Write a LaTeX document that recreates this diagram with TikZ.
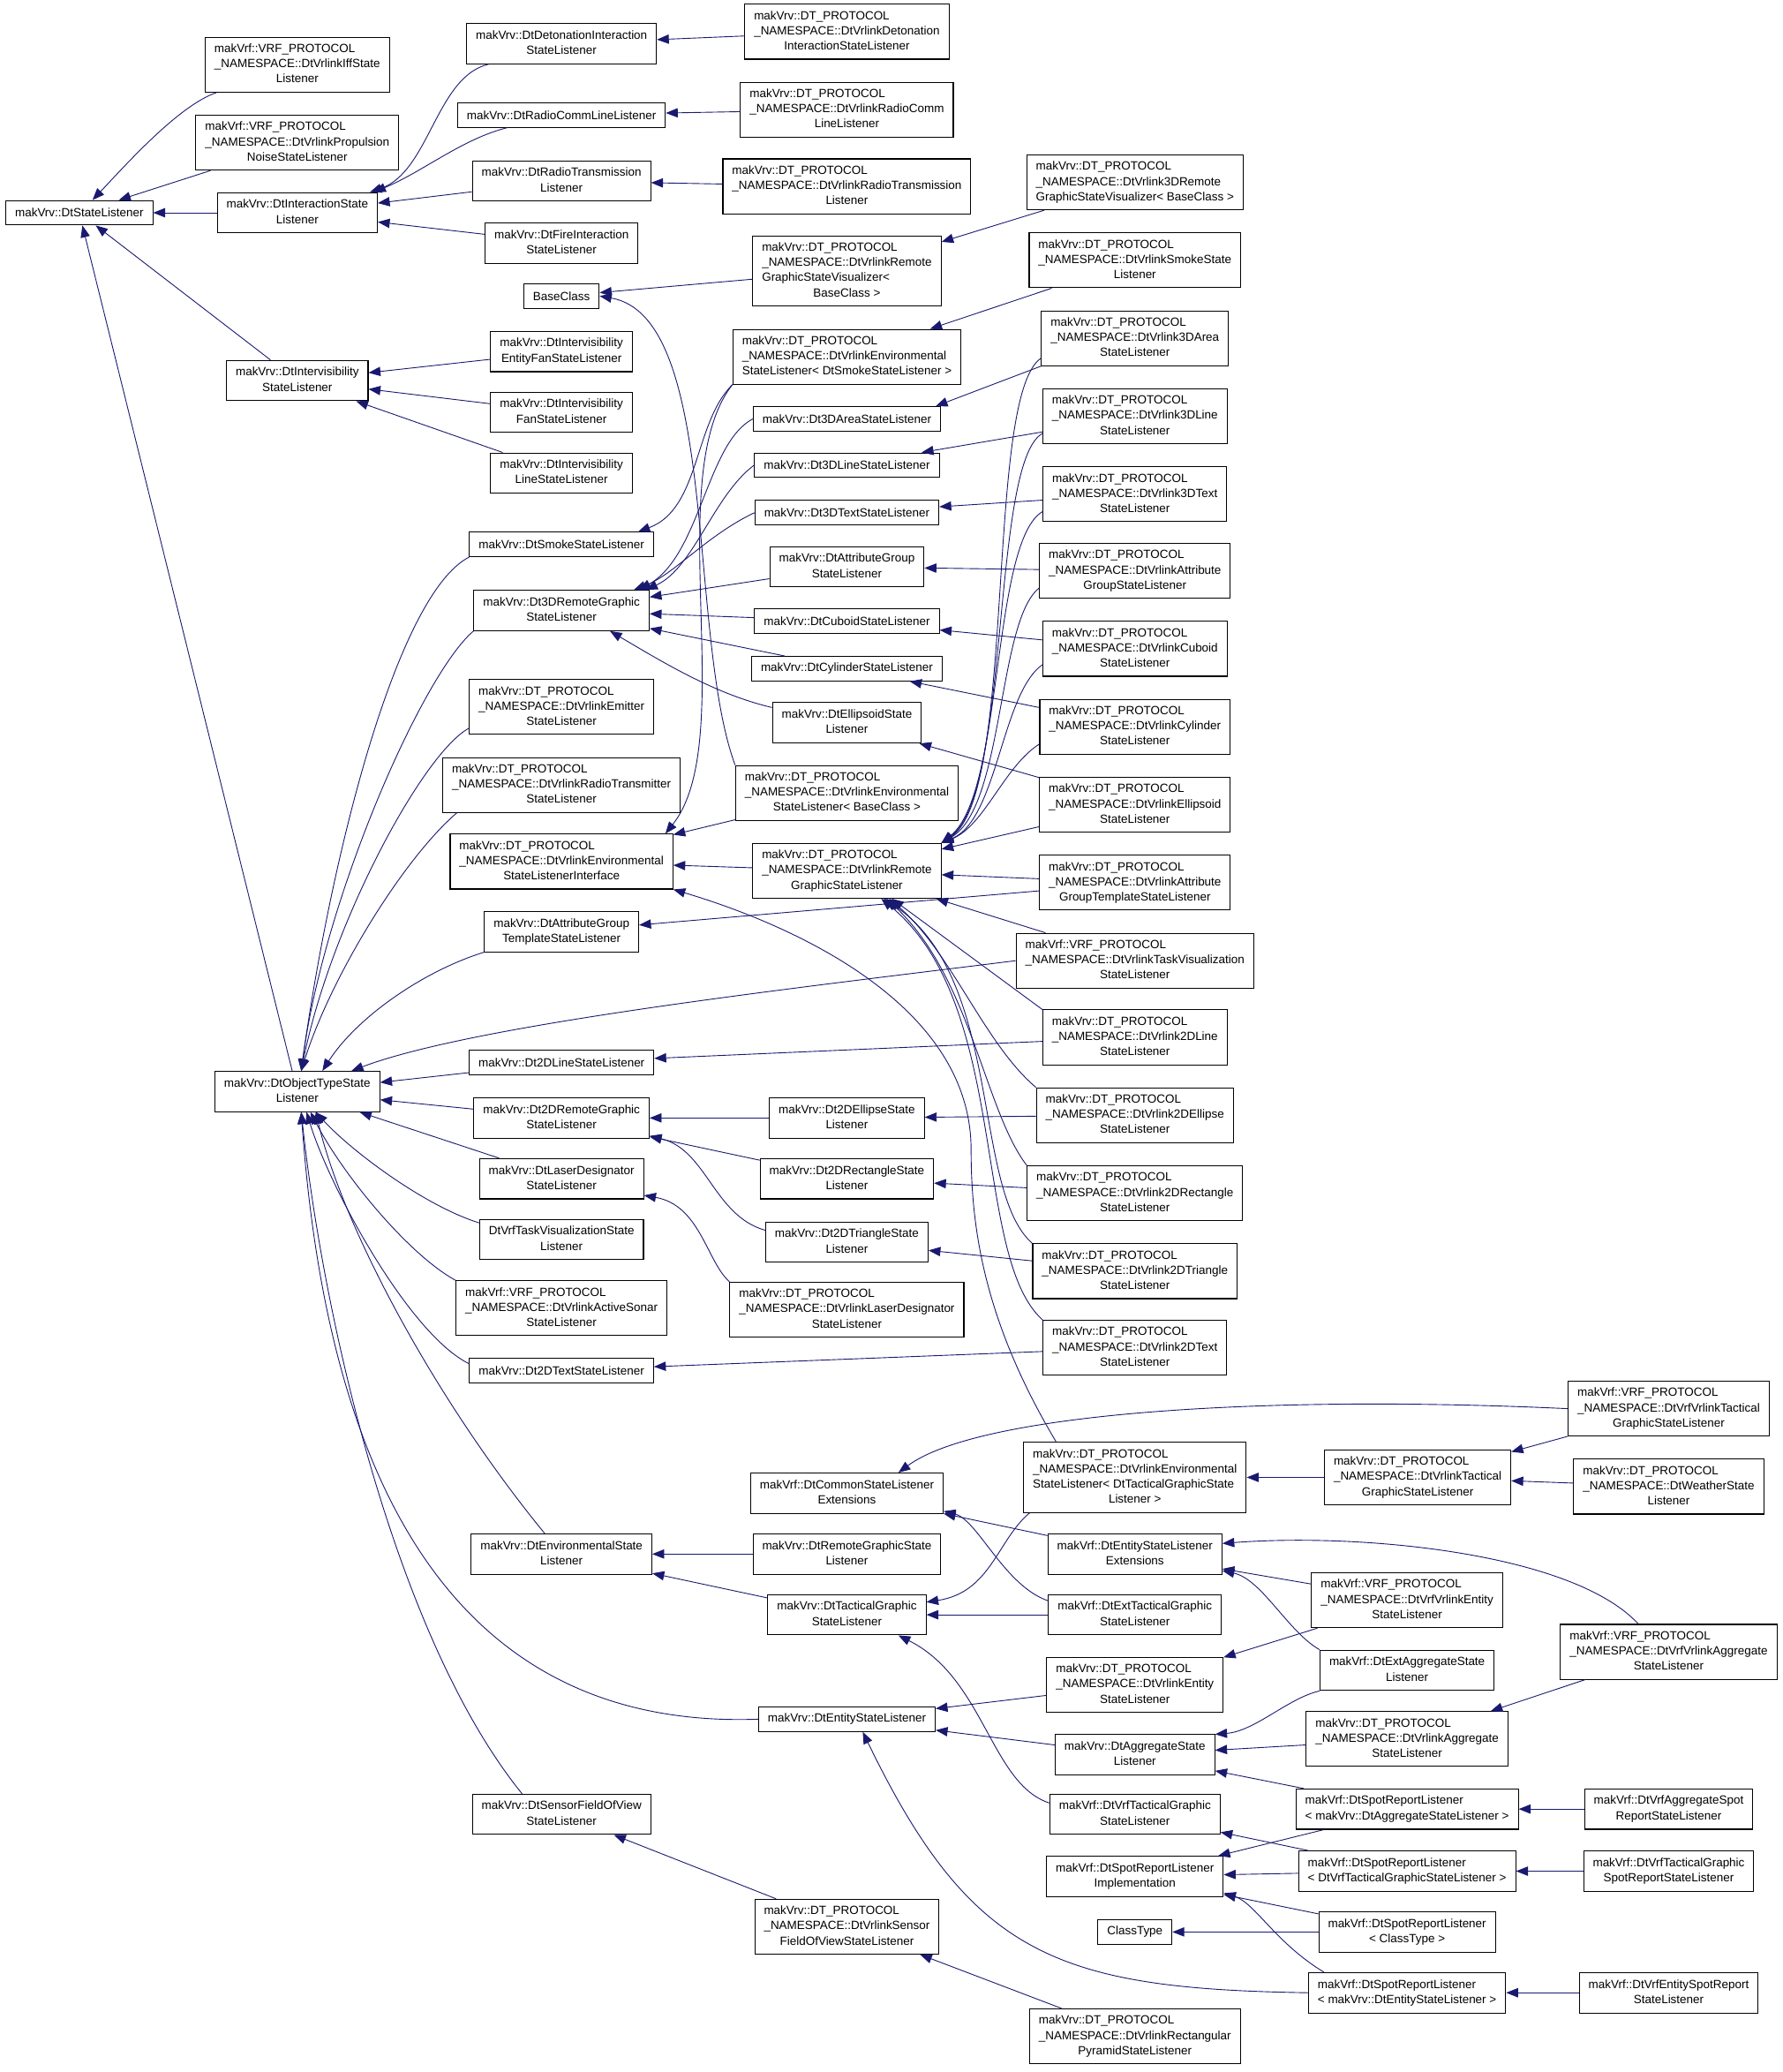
\documentclass[tikz,border=0pt]{standalone}
\usepackage{fontspec}
\setmainfont{Liberation Sans}
\usetikzlibrary{arrows.meta}

\definecolor{edgeblue}{HTML}{191970}
% first lines flush left, last line centred
\newcommand{\clsname}[2]{\begin{tabular}{@{}l@{}}#1\\\multicolumn{1}{@{}c@{}}{#2}\end{tabular}}
\newcommand{\dtns}{makVrv::DT\_PROTOCOL\\\_NAMESPACE::}
\newcommand{\vrfns}{makVrf::VRF\_PROTOCOL\\\_NAMESPACE::}

\begin{document}
\begin{tikzpicture}[x=1pt,y=-1pt,font=\fontsize{9}{11.5}\selectfont,
    box/.style={draw=black,line width=0.7pt,fill=white,inner xsep=7pt,inner ysep=0pt,minimum height=18.5pt},
    box2/.style={box,minimum height=30.5pt},
    box3/.style={box,minimum height=41.5pt},
    box4/.style={box,minimum height=53pt}]
    \useasboundingbox (0,0) rectangle (1349,1568);

    % column 1 and 2
    \node[box]  (stateL)       at (  60, 161) {makVrv::DtStateListener};
    \node[box3] (vrfIff)       at ( 225,  49) {\clsname{\vrfns DtVrlinkIffState}{Listener}};
    \node[box3] (vrfPropNoise) at ( 225, 108) {\clsname{\vrfns DtVrlinkPropulsion}{NoiseStateListener}};
    \node[box2] (interact)     at ( 225, 161) {\clsname{makVrv::DtInteractionState}{Listener}};
    \node[box2] (intervis)     at ( 225, 288) {\clsname{makVrv::DtIntervisibility}{StateListener}};
    \node[box2] (objType)      at ( 225, 826) {\clsname{makVrv::DtObjectTypeState}{Listener}};

    % column 3
    \node[box2] (detonation)   at ( 425,  33) {\clsname{makVrv::DtDetonationInteraction}{StateListener}};
    \node[box]  (radioComm)    at ( 425,  87) {makVrv::DtRadioCommLineListener};
    \node[box2] (radioTx)      at ( 425, 137) {\clsname{makVrv::DtRadioTransmission}{Listener}};
    \node[box2] (fire)         at ( 425, 184) {\clsname{makVrv::DtFireInteraction}{StateListener}};
    \node[box]  (baseClass)    at ( 425, 224) {BaseClass};
    \node[box2] (intEntityFan) at ( 425, 266) {\clsname{makVrv::DtIntervisibility}{EntityFanStateListener}};
    \node[box2] (intFan)       at ( 425, 312) {\clsname{makVrv::DtIntervisibility}{FanStateListener}};
    \node[box2] (intLine)      at ( 425, 358) {\clsname{makVrv::DtIntervisibility}{LineStateListener}};
    \node[box]  (smoke)        at ( 425, 412) {makVrv::DtSmokeStateListener};
    \node[box2] (remote3D)     at ( 425, 462) {\clsname{makVrv::Dt3DRemoteGraphic}{StateListener}};
    \node[box3] (vEmitter)     at ( 425, 535) {\clsname{\dtns DtVrlinkEmitter}{StateListener}};
    \node[box3] (vRadioTransmitter) at (425, 594) {\clsname{\dtns DtVrlinkRadioTransmitter}{StateListener}};
    \node[box3] (envIface)     at ( 425, 652) {\clsname{\dtns DtVrlinkEnvironmental}{StateListenerInterface}};
    \node[box2] (attrTemplate) at ( 425, 705) {\clsname{makVrv::DtAttributeGroup}{TemplateStateListener}};
    \node[box]  (line2D)       at ( 425, 804) {makVrv::Dt2DLineStateListener};
    \node[box2] (remote2D)     at ( 425, 846) {\clsname{makVrv::Dt2DRemoteGraphic}{StateListener}};
    \node[box2] (laser)        at ( 425, 892) {\clsname{makVrv::DtLaserDesignator}{StateListener}};
    \node[box2] (taskVis)      at ( 425, 938) {\clsname{DtVrfTaskVisualizationState}{Listener}};
    \node[box3] (vSonar)       at ( 425, 990) {\clsname{\vrfns DtVrlinkActiveSonar}{StateListener}};
    \node[box]  (text2D)       at ( 425,1037) {makVrv::Dt2DTextStateListener};
    \node[box2] (envState)     at ( 425,1176) {\clsname{makVrv::DtEnvironmentalState}{Listener}};
    \node[box2] (sensorFov)    at ( 425,1373) {\clsname{makVrv::DtSensorFieldOfView}{StateListener}};

    % column 4
    \node[box3] (vDetonation)  at ( 641,  24) {\clsname{\dtns DtVrlinkDetonation}{InteractionStateListener}};
    \node[box3] (vRadioComm)   at ( 641,  83) {\clsname{\dtns DtVrlinkRadioComm}{LineListener}};
    \node[box3] (vRadioTx)     at ( 641, 141) {\clsname{\dtns DtVrlinkRadioTransmission}{Listener}};
    \node[box4] (vVisualizer)  at ( 641, 205) {\clsname{\dtns DtVrlinkRemote\\GraphicStateVisualizer<}{BaseClass >}};
    \node[box3] (envSmoke)     at ( 641, 270) {\clsname{\dtns DtVrlinkEnvironmental}{StateListener< DtSmokeStateListener >}};
    \node[box]  (area3D)       at ( 641, 317) {makVrv::Dt3DAreaStateListener};
    \node[box]  (line3D)       at ( 641, 352) {makVrv::Dt3DLineStateListener};
    \node[box]  (text3D)       at ( 641, 388) {makVrv::Dt3DTextStateListener};
    \node[box2] (attrGroup)    at ( 641, 429) {\clsname{makVrv::DtAttributeGroup}{StateListener}};
    \node[box]  (cuboid)       at ( 641, 470) {makVrv::DtCuboidStateListener};
    \node[box]  (cylinder)     at ( 641, 506) {makVrv::DtCylinderStateListener};
    \node[box2] (ellipsoid)    at ( 641, 547) {\clsname{makVrv::DtEllipsoidState}{Listener}};
    \node[box3] (envBase)      at ( 641, 600) {\clsname{\dtns DtVrlinkEnvironmental}{StateListener< BaseClass >}};
    \node[box3] (vRemote)      at ( 641, 659) {\clsname{\dtns DtVrlinkRemote}{GraphicStateListener}};
    \node[box2] (ellipse2D)    at ( 641, 846) {\clsname{makVrv::Dt2DEllipseState}{Listener}};
    \node[box2] (rect2D)       at ( 641, 892) {\clsname{makVrv::Dt2DRectangleState}{Listener}};
    \node[box2] (tri2D)        at ( 641, 940) {\clsname{makVrv::Dt2DTriangleState}{Listener}};
    \node[box3] (vLaser)       at ( 641, 991) {\clsname{\dtns DtVrlinkLaserDesignator}{StateListener}};
    \node[box2] (commonExt)    at ( 641,1130) {\clsname{makVrf::DtCommonStateListener}{Extensions}};
    \node[box2] (remoteGState) at ( 641,1176) {\clsname{makVrv::DtRemoteGraphicState}{Listener}};
    \node[box2] (tacGraphic)   at ( 641,1222) {\clsname{makVrv::DtTacticalGraphic}{StateListener}};
    \node[box]  (entityState)  at ( 641,1301) {makVrv::DtEntityStateListener};
    \node[box3] (vSensor)      at ( 641,1458) {\clsname{\dtns DtVrlinkSensor}{FieldOfViewStateListener}};

    % column 5
    \node[box3] (v3DVisualizer) at (859, 138) {\clsname{\dtns DtVrlink3DRemote}{GraphicStateVisualizer< BaseClass >}};
    \node[box3] (vSmoke)       at ( 859, 197) {\clsname{\dtns DtVrlinkSmokeState}{Listener}};
    \node[box3] (v3DArea)      at ( 859, 256) {\clsname{\dtns DtVrlink3DArea}{StateListener}};
    \node[box3] (v3DLine)      at ( 859, 315) {\clsname{\dtns DtVrlink3DLine}{StateListener}};
    \node[box3] (v3DText)      at ( 859, 374) {\clsname{\dtns DtVrlink3DText}{StateListener}};
    \node[box3] (vAttrGroup)   at ( 859, 432) {\clsname{\dtns DtVrlinkAttribute}{GroupStateListener}};
    \node[box3] (vCuboid)      at ( 859, 491) {\clsname{\dtns DtVrlinkCuboid}{StateListener}};
    \node[box3] (vCylinder)    at ( 859, 550) {\clsname{\dtns DtVrlinkCylinder}{StateListener}};
    \node[box3] (vEllipsoid)   at ( 859, 609) {\clsname{\dtns DtVrlinkEllipsoid}{StateListener}};
    \node[box3] (vAttrTemplate) at (859, 668) {\clsname{\dtns DtVrlinkAttribute}{GroupTemplateStateListener}};
    \node[box3] (vTaskVis)     at ( 859, 727) {\clsname{\vrfns DtVrlinkTaskVisualization}{StateListener}};
    \node[box3] (v2DLine)      at ( 859, 785) {\clsname{\dtns DtVrlink2DLine}{StateListener}};
    \node[box3] (v2DEllipse)   at ( 859, 844) {\clsname{\dtns DtVrlink2DEllipse}{StateListener}};
    \node[box3] (v2DRect)      at ( 859, 903) {\clsname{\dtns DtVrlink2DRectangle}{StateListener}};
    \node[box3] (v2DTri)       at ( 859, 962) {\clsname{\dtns DtVrlink2DTriangle}{StateListener}};
    \node[box3] (v2DText)      at ( 859,1020) {\clsname{\dtns DtVrlink2DText}{StateListener}};
    \node[box4] (envTactical)  at ( 859,1118) {\clsname{\dtns DtVrlinkEnvironmental\\StateListener< DtTacticalGraphicState}{Listener >}};
    \node[box2] (entityExt)    at ( 859,1176) {\clsname{makVrf::DtEntityStateListener}{Extensions}};
    \node[box2] (extTactical)  at ( 859,1222) {\clsname{makVrf::DtExtTacticalGraphic}{StateListener}};
    \node[box3] (vEntity)      at ( 859,1275) {\clsname{\dtns DtVrlinkEntity}{StateListener}};
    \node[box2] (aggState)     at ( 859,1328) {\clsname{makVrv::DtAggregateState}{Listener}};
    \node[box2] (vrfTacGraphic) at (859,1373) {\clsname{makVrf::DtVrfTacticalGraphic}{StateListener}};
    \node[box2] (spotImpl)     at ( 859,1420) {\clsname{makVrf::DtSpotReportListener}{Implementation}};
    \node[box]  (classType)    at ( 859,1462) {ClassType};
    \node[box3] (vRectPyramid) at ( 859,1541) {\clsname{\dtns DtVrlinkRectangular}{PyramidStateListener}};

    % column 6 and 7
    \node[box3] (vTactical)    at (1073,1118) {\clsname{\dtns DtVrlinkTactical}{GraphicStateListener}};
    \node[box3] (vrfEntity)    at (1065,1211) {\clsname{\vrfns DtVrfVrlinkEntity}{StateListener}};
    \node[box2] (extAggregate) at (1065,1264) {\clsname{makVrf::DtExtAggregateState}{Listener}};
    \node[box3] (vAggregate)   at (1065,1316) {\clsname{\dtns DtVrlinkAggregate}{StateListener}};
    \node[box2] (spotAgg)      at (1065,1369) {\clsname{makVrf::DtSpotReportListener}{< makVrv::DtAggregateStateListener >}};
    \node[box2] (spotTac)      at (1065,1416) {\clsname{makVrf::DtSpotReportListener}{< DtVrfTacticalGraphicStateListener >}};
    \node[box2] (spotClass)    at (1065,1462) {\clsname{makVrf::DtSpotReportListener}{< ClassType >}};
    \node[box2] (spotEntity)   at (1065,1508) {\clsname{makVrf::DtSpotReportListener}{< makVrv::DtEntityStateListener >}};
    \node[box3] (vrfTactical)  at (1263,1066) {\clsname{\vrfns DtVrfVrlinkTactical}{GraphicStateListener}};
    \node[box3] (vWeather)     at (1263,1125) {\clsname{\dtns DtWeatherState}{Listener}};
    \node[box3] (vrfAggregate) at (1263,1250) {\clsname{\vrfns DtVrfVrlinkAggregate}{StateListener}};
    \node[box2] (vrfAggSpot)   at (1263,1369) {\clsname{makVrf::DtVrfAggregateSpot}{ReportStateListener}};
    \node[box2] (vrfTacSpot)   at (1263,1416) {\clsname{makVrf::DtVrfTacticalGraphic}{SpotReportStateListener}};
    \node[box2] (vrfEntitySpot) at (1263,1508) {\clsname{makVrf::DtVrfEntitySpotReport}{StateListener}};

    \begin{scope}[every path/.style={draw=edgeblue,line width=0.6pt,-{Triangle[length=9pt,width=7pt]}}]
       % top part
       \draw (vrfIff) .. controls (135,80) and (95,125) .. ([xshift=10pt]stateL.north);
       \draw (vrfPropNoise) -- (stateL);
       \draw (interact) -- (stateL);
       \draw (intervis) -- (stateL);
       \draw (objType) -- (stateL);
       \draw ([xshift=17pt]detonation.south west) .. controls (330,58) and (325,130) .. ([xshift=-6pt]interact.north east);
       \draw ([xshift=38pt]radioComm.south west) .. controls (350,105) and (320,130) .. ([xshift=-3pt]interact.north east);
       \draw (radioTx) -- (interact);
       \draw (fire) -- (interact);
       \draw (vDetonation) -- (detonation);
       \draw (vRadioComm) -- (radioComm);
       \draw (vRadioTx) -- (radioTx);
       \draw (intEntityFan) -- (intervis);
       \draw (intFan) -- (intervis);
       \draw (intLine) -- (intervis);
       \draw (vVisualizer) -- (baseClass);
       \draw (envBase.north west) .. controls (520,480) and (545,240) .. (baseClass.east);
       \draw (v3DVisualizer) -- (vVisualizer);
       \draw (vSmoke) -- (envSmoke);
       \draw (envSmoke.south west) .. controls (525,320) and (530,385) .. ([xshift=-12pt]smoke.north east);
       \draw (envSmoke.south west) .. controls (500,360) and (560,560) .. ([xshift=-6pt]envIface.north east);

       % 3D listeners
       \draw (area3D.west) .. controls (535,335) and (530,420) .. ([xshift=-8pt]remote3D.north east);
       \draw (line3D.west) .. controls (540,375) and (525,430) .. ([xshift=-3pt]remote3D.north east);
       \draw (text3D.west) .. controls (535,405) and (510,435) .. ([xshift=-12pt]remote3D.north east);
       \draw (attrGroup) -- (remote3D);
       \draw (cuboid) -- (remote3D);
       \draw (cylinder) -- (remote3D);
       \draw ([yshift=-4pt]ellipsoid.north west) .. controls (540,525) and (500,500) .. ([xshift=-30pt]remote3D.south east);
       \draw (v3DArea.south west) -- ([xshift=-4pt]area3D.north east);
       \draw (v3DLine) -- (line3D);
       \draw (v3DText) -- (text3D);
       \draw (vAttrGroup) -- (attrGroup);
       \draw (vCuboid) -- (cuboid);
       \draw (vCylinder) -- (cylinder);
       \draw (vEllipsoid) -- (ellipsoid);

       % remote graphic state listener
       \draw ([yshift=6pt]v3DArea.south west) .. controls (745,300) and (770,600) .. (vRemote.north east);
       \draw ([yshift=8pt]v3DLine.south west) .. controls (750,350) and (765,600) .. (vRemote.north east);
       \draw ([yshift=8pt]v3DText.south west) .. controls (750,410) and (760,600) .. (vRemote.north east);
       \draw ([yshift=8pt]vAttrGroup.south west) .. controls (755,470) and (760,610) .. (vRemote.north east);
       \draw ([yshift=9pt]vCuboid.south west) .. controls (758,525) and (755,620) .. (vRemote.north east);
       \draw ([yshift=8pt]vCylinder.south west) .. controls (760,580) and (745,625) .. (vRemote.north east);
       \draw (vEllipsoid) -- (vRemote);
       \draw (vAttrTemplate) -- (vRemote);
       \draw (vAttrTemplate) -- (attrTemplate);
       \draw (vTaskVis) -- (vRemote);
       \draw (v2DLine.north west) -- ([xshift=34pt]vRemote.south);
       \draw (v2DEllipse.north west) .. controls (745,790) and (720,720) .. ([xshift=32pt]vRemote.south);
       \draw (v2DRect.north west) .. controls (745,840) and (735,740) .. ([xshift=30pt]vRemote.south);
       \draw (v2DTri.north west) .. controls (735,900) and (760,740) .. ([xshift=28pt]vRemote.south);
       \draw (v2DText.north west) .. controls (735,950) and (765,760) .. ([xshift=26pt]vRemote.south);
       \draw (envBase) -- (envIface);
       \draw (vRemote) -- (envIface);
       \draw ([xshift=25pt]envTactical.north west) .. controls (745,1000) and (735,930) .. (735,870)
             .. controls (735,760) and (600,700) .. (envIface.south east);

       % 2D listeners
       \draw (v2DLine) -- (line2D);
       \draw (ellipse2D) -- (remote2D);
       \draw (v2DEllipse) -- (ellipse2D);
       \draw (rect2D) -- (remote2D);
       \draw ([yshift=9pt]tri2D.west) .. controls (540,920) and (535,870) .. ([yshift=2pt]remote2D.south east);
       \draw (v2DRect) -- (rect2D);
       \draw (v2DTri) -- (tri2D);
       \draw (v2DText) -- (text2D);
       \draw (vLaser.north west) .. controls (535,955) and (530,912) .. ([yshift=3pt]laser.south east);

       % object type state listener
       \draw (smoke.south west) .. controls (300,450) and (250,650) .. ([xshift=3pt]objType.north);
       \draw (remote3D.south west) .. controls (320,510) and (245,680) .. ([xshift=3pt]objType.north);
       \draw ([yshift=5pt]vEmitter.south west) .. controls (320,570) and (250,700) .. ([xshift=3pt]objType.north);
       \draw ([xshift=11pt]vRadioTransmitter.south west) .. controls (305,650) and (250,740) .. ([xshift=3pt]objType.north);
       \draw (attrTemplate.south west) .. controls (320,735) and (270,770) .. ([xshift=19pt]objType.north);
       \draw (vTaskVis.west) .. controls (600,748) and (360,775) .. ([xshift=41pt]objType.north);
       \draw (line2D) -- (objType);
       \draw (remote2D) -- (objType);
       \draw (laser) -- (objType);
       \draw ([yshift=-3pt]taskVis.north west) .. controls (320,912) and (265,870) .. ([xshift=14pt]objType.south);
       \draw (vSonar.north west) .. controls (310,950) and (260,890) .. ([xshift=10pt]objType.south);
       \draw ([yshift=5pt]text2D.west) .. controls (310,1010) and (250,900) .. ([xshift=7pt]objType.south);
       \draw (envState) .. controls (330,1060) and (260,930) .. ([xshift=14pt]objType.south);
       \draw (entityState.west) .. controls (320,1310) and (245,1080) .. ([xshift=3pt]objType.south);
       \draw ([xshift=38pt]sensorFov.north west) .. controls (300,1240) and (245,1000) .. ([xshift=3pt]objType.south);

       % tactical graphics and extensions
       \draw (vrfTactical.west) .. controls (950,1055) and (740,1070) .. ([xshift=39pt]commonExt.north);
       \draw (vrfTactical) -- (vTactical);
       \draw (vWeather) -- (vTactical);
       \draw (vTactical) -- (envTactical);
       \draw ([xshift=5pt]envTactical.south west) .. controls (755,1165) and (750,1205) .. ([yshift=-6pt]tacGraphic.north east);
       \draw (entityExt) -- (commonExt);
       \draw ([yshift=-5pt]extTactical.north west) .. controls (760,1200) and (740,1150) .. ([yshift=2pt]commonExt.south east);
       \draw (extTactical) -- (tacGraphic);
       \draw (remoteGState) -- (envState);
       \draw (tacGraphic) -- (envState);
       \draw ([yshift=-7pt]vrfTacGraphic.north west) .. controls (750,1350) and (745,1270) .. ([xshift=39pt]tacGraphic.south);

       % entities, aggregates and spot reports
       \draw ([xshift=-23pt]vrfAggregate.north) .. controls (1190,1175) and (1030,1160) .. ([yshift=8pt]entityExt.east);
       \draw (vrfAggregate) -- (vAggregate);
       \draw (vrfEntity) -- (entityExt);
       \draw (vrfEntity) -- (vEntity);
       \draw (extAggregate.north west) .. controls (975,1235) and (955,1195) .. ([yshift=3pt]entityExt.south east);
       \draw (extAggregate.south west) .. controls (975,1285) and (950,1310) .. (aggState.north east);
       \draw (vEntity) -- (entityState);
       \draw (aggState) -- (entityState);
       \draw (vAggregate) -- (aggState);
       \draw (spotAgg) -- (aggState);
       \draw (spotAgg) -- (spotImpl);
       \draw (vrfAggSpot) -- (spotAgg);
       \draw (spotTac) -- (vrfTacGraphic);
       \draw (spotTac) -- (spotImpl);
       \draw (vrfTacSpot) -- (spotTac);
       \draw (spotClass) -- (spotImpl);
       \draw (spotClass) -- (classType);
       \draw ([xshift=12pt]spotEntity.north west) .. controls (965,1470) and (950,1440) .. ([yshift=3pt]spotImpl.south east);
       \draw (spotEntity.west) .. controls (800,1505) and (735,1480) .. ([xshift=12pt]entityState.south);
       \draw (vrfEntitySpot) -- (spotEntity);
       \draw (vSensor) -- (sensorFov);
       \draw (vRectPyramid) -- (vSensor);
    \end{scope}
\end{tikzpicture}
\end{document}
